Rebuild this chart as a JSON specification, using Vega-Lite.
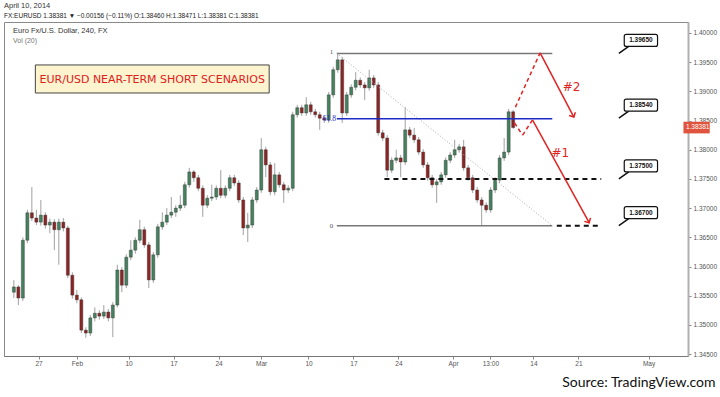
{
"$schema": "https://vega.github.io/schema/vega-lite/v6.json",
"width": 684, "height": 334,
"autosize": {"type": "none"},
"padding": {"left": 4, "top": 22, "right": 32, "bottom": 41},
"background": "white",
"title": {"text": "April 10, 2014", "subtitle": "FX:EURUSD 1.38381 ▼ −0.00156 (−0.11%) O:1.38460 H:1.38471 L:1.38381 C:1.38381", "anchor": "start", "frame": "group", "font": "Liberation Sans", "fontSize": 7.5, "fontWeight": "normal", "color": "#333", "subtitleFont": "Liberation Sans", "subtitleFontSize": 6.5, "subtitleColor": "#222", "subtitlePadding": 3, "offset": 3},
"config": {"view": {"stroke": "#8a8a8a", "strokeWidth": 1}, "axis": {"labelFont": "Liberation Sans", "labelFontSize": 6.5, "labelColor": "#555", "grid": false, "labelOverlap": false}},
"datasets": {
"candles": [
{"t":-2.75,"o":1.3556,"h":1.3577,"l":1.3546,"c":1.3565},
{"t":-2.25,"o":1.3565,"h":1.3568,"l":1.3534,"c":1.3546},
{"t":-1.75,"o":1.3546,"h":1.3650,"l":1.3541,"c":1.3645},
{"t":-1.25,"o":1.3645,"h":1.3697,"l":1.3640,"c":1.3692},
{"t":-0.75,"o":1.3692,"h":1.3736,"l":1.3678,"c":1.3683},
{"t":-0.25,"o":1.3683,"h":1.3697,"l":1.3671,"c":1.3676},
{"t":0.25,"o":1.3676,"h":1.3714,"l":1.3670,"c":1.3688},
{"t":0.75,"o":1.3688,"h":1.3693,"l":1.3665,"c":1.3671},
{"t":1.25,"o":1.3671,"h":1.3682,"l":1.3657,"c":1.3676},
{"t":1.75,"o":1.3676,"h":1.3681,"l":1.3628,"c":1.3663},
{"t":2.25,"o":1.3663,"h":1.3682,"l":1.3603,"c":1.3676},
{"t":2.75,"o":1.3676,"h":1.3683,"l":1.3660,"c":1.3666},
{"t":3.25,"o":1.3666,"h":1.3670,"l":1.3580,"c":1.3585},
{"t":3.75,"o":1.3585,"h":1.3590,"l":1.3545,"c":1.3551},
{"t":4.25,"o":1.3551,"h":1.3560,"l":1.3537,"c":1.3543},
{"t":4.75,"o":1.3543,"h":1.3547,"l":1.3486,"c":1.3491},
{"t":5.25,"o":1.3491,"h":1.3496,"l":1.3478,"c":1.3486},
{"t":5.75,"o":1.3486,"h":1.3517,"l":1.3481,"c":1.3512},
{"t":6.25,"o":1.3512,"h":1.3530,"l":1.3506,"c":1.3520},
{"t":6.75,"o":1.3520,"h":1.3525,"l":1.3509,"c":1.3515},
{"t":7.25,"o":1.3515,"h":1.3534,"l":1.3510,"c":1.3522},
{"t":7.75,"o":1.3522,"h":1.3527,"l":1.3506,"c":1.3512},
{"t":8.25,"o":1.3512,"h":1.3539,"l":1.3479,"c":1.3534},
{"t":8.75,"o":1.3534,"h":1.3603,"l":1.3530,"c":1.3594},
{"t":9.25,"o":1.3594,"h":1.3599,"l":1.3556,"c":1.3568},
{"t":9.75,"o":1.3568,"h":1.3621,"l":1.3563,"c":1.3616},
{"t":10.25,"o":1.3616,"h":1.3645,"l":1.3611,"c":1.3628},
{"t":10.75,"o":1.3628,"h":1.3650,"l":1.3622,"c":1.3645},
{"t":11.25,"o":1.3645,"h":1.3680,"l":1.3640,"c":1.3663},
{"t":11.75,"o":1.3663,"h":1.3668,"l":1.3632,"c":1.3637},
{"t":12.25,"o":1.3637,"h":1.3642,"l":1.3563,"c":1.3577},
{"t":12.75,"o":1.3577,"h":1.3625,"l":1.3572,"c":1.3620},
{"t":13.25,"o":1.3620,"h":1.3673,"l":1.3615,"c":1.3668},
{"t":13.75,"o":1.3668,"h":1.3693,"l":1.3663,"c":1.3676},
{"t":14.25,"o":1.3676,"h":1.3700,"l":1.3671,"c":1.3688},
{"t":14.75,"o":1.3688,"h":1.3719,"l":1.3683,"c":1.3693},
{"t":15.25,"o":1.3693,"h":1.3705,"l":1.3685,"c":1.3700},
{"t":15.75,"o":1.3700,"h":1.3722,"l":1.3695,"c":1.3705},
{"t":16.25,"o":1.3705,"h":1.3745,"l":1.3700,"c":1.3740},
{"t":16.75,"o":1.3740,"h":1.3769,"l":1.3735,"c":1.3762},
{"t":17.25,"o":1.3762,"h":1.3765,"l":1.3745,"c":1.3752},
{"t":17.75,"o":1.3752,"h":1.3757,"l":1.3729,"c":1.3734},
{"t":18.25,"o":1.3734,"h":1.3739,"l":1.3685,"c":1.3705},
{"t":18.75,"o":1.3705,"h":1.3722,"l":1.3700,"c":1.3717},
{"t":19.25,"o":1.3717,"h":1.3740,"l":1.3712,"c":1.3719},
{"t":19.75,"o":1.3719,"h":1.3739,"l":1.3714,"c":1.3734},
{"t":20.25,"o":1.3734,"h":1.3765,"l":1.3717,"c":1.3722},
{"t":20.75,"o":1.3722,"h":1.3739,"l":1.3717,"c":1.3734},
{"t":21.25,"o":1.3734,"h":1.3757,"l":1.3729,"c":1.3752},
{"t":21.75,"o":1.3752,"h":1.3757,"l":1.3738,"c":1.3743},
{"t":22.25,"o":1.3743,"h":1.3748,"l":1.3709,"c":1.3714},
{"t":22.75,"o":1.3714,"h":1.3719,"l":1.3654,"c":1.3666},
{"t":23.25,"o":1.3666,"h":1.3692,"l":1.3642,"c":1.3671},
{"t":23.75,"o":1.3671,"h":1.3719,"l":1.3666,"c":1.3714},
{"t":24.25,"o":1.3714,"h":1.3736,"l":1.3709,"c":1.3731},
{"t":24.75,"o":1.3731,"h":1.3820,"l":1.3726,"c":1.3800},
{"t":25.25,"o":1.3800,"h":1.3805,"l":1.3753,"c":1.3774},
{"t":25.75,"o":1.3774,"h":1.3779,"l":1.3722,"c":1.3728},
{"t":26.25,"o":1.3728,"h":1.3777,"l":1.3722,"c":1.3757},
{"t":26.75,"o":1.3757,"h":1.3762,"l":1.3735,"c":1.3740},
{"t":27.25,"o":1.3740,"h":1.3745,"l":1.3709,"c":1.3731},
{"t":27.75,"o":1.3731,"h":1.3739,"l":1.3726,"c":1.3734},
{"t":28.25,"o":1.3734,"h":1.3865,"l":1.3729,"c":1.3860},
{"t":28.75,"o":1.3860,"h":1.3877,"l":1.3855,"c":1.3872},
{"t":29.25,"o":1.3872,"h":1.3877,"l":1.3858,"c":1.3863},
{"t":29.75,"o":1.3863,"h":1.3890,"l":1.3858,"c":1.3877},
{"t":30.25,"o":1.3877,"h":1.3882,"l":1.3860,"c":1.3865},
{"t":30.75,"o":1.3865,"h":1.3870,"l":1.3855,"c":1.3860},
{"t":31.25,"o":1.3860,"h":1.3865,"l":1.3834,"c":1.3854},
{"t":31.75,"o":1.3854,"h":1.3859,"l":1.3846,"c":1.3851},
{"t":32.25,"o":1.3851,"h":1.3899,"l":1.3846,"c":1.3894},
{"t":32.75,"o":1.3894,"h":1.3942,"l":1.3889,"c":1.3937},
{"t":33.25,"o":1.3937,"h":1.3966,"l":1.3932,"c":1.3954},
{"t":33.75,"o":1.3954,"h":1.3959,"l":1.3846,"c":1.3863},
{"t":34.25,"o":1.3863,"h":1.3899,"l":1.3858,"c":1.3894},
{"t":34.75,"o":1.3894,"h":1.3912,"l":1.3889,"c":1.3907},
{"t":35.25,"o":1.3907,"h":1.3933,"l":1.3902,"c":1.3919},
{"t":35.75,"o":1.3919,"h":1.3924,"l":1.3906,"c":1.3911},
{"t":36.25,"o":1.3911,"h":1.3916,"l":1.3885,"c":1.3906},
{"t":36.75,"o":1.3906,"h":1.3937,"l":1.3901,"c":1.3923},
{"t":37.25,"o":1.3923,"h":1.3928,"l":1.3906,"c":1.3911},
{"t":37.75,"o":1.3911,"h":1.3916,"l":1.3824,"c":1.3829},
{"t":38.25,"o":1.3829,"h":1.3834,"l":1.3815,"c":1.3820},
{"t":38.75,"o":1.3820,"h":1.3825,"l":1.3753,"c":1.3765},
{"t":39.25,"o":1.3765,"h":1.3787,"l":1.3760,"c":1.3782},
{"t":39.75,"o":1.3782,"h":1.3800,"l":1.3777,"c":1.3786},
{"t":40.25,"o":1.3786,"h":1.3791,"l":1.3753,"c":1.3779},
{"t":40.75,"o":1.3779,"h":1.3873,"l":1.3774,"c":1.3834},
{"t":41.25,"o":1.3834,"h":1.3839,"l":1.3820,"c":1.3825},
{"t":41.75,"o":1.3825,"h":1.3837,"l":1.3812,"c":1.3817},
{"t":42.25,"o":1.3817,"h":1.3822,"l":1.3791,"c":1.3796},
{"t":42.75,"o":1.3796,"h":1.3801,"l":1.3769,"c":1.3774},
{"t":43.25,"o":1.3774,"h":1.3779,"l":1.3747,"c":1.3752},
{"t":43.75,"o":1.3752,"h":1.3757,"l":1.3735,"c":1.3740},
{"t":44.25,"o":1.3740,"h":1.3750,"l":1.3709,"c":1.3745},
{"t":44.75,"o":1.3745,"h":1.3762,"l":1.3740,"c":1.3757},
{"t":45.25,"o":1.3757,"h":1.3787,"l":1.3752,"c":1.3782},
{"t":45.75,"o":1.3782,"h":1.3796,"l":1.3777,"c":1.3791},
{"t":46.25,"o":1.3791,"h":1.3817,"l":1.3786,"c":1.3800},
{"t":46.75,"o":1.3800,"h":1.3810,"l":1.3795,"c":1.3805},
{"t":47.25,"o":1.3805,"h":1.3817,"l":1.3764,"c":1.3769},
{"t":47.75,"o":1.3769,"h":1.3774,"l":1.3747,"c":1.3752},
{"t":48.25,"o":1.3752,"h":1.3757,"l":1.3726,"c":1.3731},
{"t":48.75,"o":1.3731,"h":1.3736,"l":1.3709,"c":1.3714},
{"t":49.25,"o":1.3714,"h":1.3719,"l":1.3671,"c":1.3705},
{"t":49.75,"o":1.3705,"h":1.3710,"l":1.3692,"c":1.3697},
{"t":50.25,"o":1.3697,"h":1.3736,"l":1.3692,"c":1.3731},
{"t":50.75,"o":1.3731,"h":1.3753,"l":1.3726,"c":1.3748},
{"t":51.25,"o":1.3748,"h":1.3791,"l":1.3743,"c":1.3786},
{"t":51.75,"o":1.3786,"h":1.3820,"l":1.3781,"c":1.3796},
{"t":52.25,"o":1.3796,"h":1.3870,"l":1.3791,"c":1.3865},
{"t":52.75,"o":1.3865,"h":1.3868,"l":1.3836,"c":1.3838}
],
"segs": [
{"k":"fib","x1":33.15,"y1":1.3965,"x2":57.1,"y2":1.3965},
{"k":"fib","x1":33.15,"y1":1.3670,"x2":57.1,"y2":1.3670},
{"k":"f618","x1":33.15,"y1":1.3853,"x2":57.1,"y2":1.3853},
{"k":"diag","x1":33.15,"y1":1.3965,"x2":57.1,"y2":1.3670},
{"k":"sup","x1":38.44,"y1":1.3750,"x2":62.54,"y2":1.3750},
{"k":"sup","x1":57.6,"y1":1.3670,"x2":62.3,"y2":1.3670},
{"k":"rdash","x1":53.0,"y1":1.3873,"x2":55.75,"y2":1.3966},
{"k":"rdash","x1":52.9,"y1":1.3846,"x2":53.8,"y2":1.3825},
{"k":"rdash","x1":53.8,"y1":1.3825,"x2":54.9,"y2":1.3851},
{"k":"rsolid","x1":55.75,"y1":1.3966,"x2":59.5,"y2":1.3856},
{"k":"rsolid","x1":54.9,"y1":1.3851,"x2":61.2,"y2":1.3675}
],
"tips": [
{"k":"a2","x":59.5,"y":1.3856},
{"k":"a1","x":61.2,"y":1.3675}
],
"levels": [
{"v":1.3965,"txt":"1.39650"},
{"v":1.3854,"txt":"1.38540"},
{"v":1.3750,"txt":"1.37500"},
{"v":1.3670,"txt":"1.36700"}
],
"notes": [
{"k":"hdr","x":-2.85,"y":1.40034,"txt":"Euro Fx/U.S. Dollar, 240, FX"},
{"k":"vol","x":-2.85,"y":1.39863,"txt":"Vol (20)"},
{"k":"fibl","x":32.75,"y":1.3967,"txt":"1"},
{"k":"fibl","x":32.75,"y":1.3670,"txt":"0"},
{"k":"f618l","x":33.05,"y":1.3853,"txt":"61.8"},
{"k":"hash","x":59.25,"y":1.3908,"txt":"#2"},
{"k":"hash","x":58.0,"y":1.3794,"txt":"#1"},
{"k":"box","x":12.63,"y":1.39195,"txt":"EUR/USD NEAR-TERM SHORT SCENARIOS"},
{"k":"last","x":71.95,"y":1.38381,"txt":"1.38381"}
]
},
"layer": [
{"data": {"name": "candles"}, "mark": {"type": "rule", "color": "#a0a0a0", "strokeWidth": 1},
 "encoding": {
  "x": {"field": "t", "type": "quantitative", "scale": {"domain": [-3.29, 71.63], "nice": false, "zero": false},
   "axis": {"values": [0, 4.26, 10, 15, 20, 24.73, 30, 35, 40, 46.07, 50.22, 55, 60, 67.8], "tickCount": 30,
    "labelExpr": "['27','Feb','10','17','24','Mar','10','17','24','Apr','13:00','14','21','May'][indexof([0,4.26,10,15,20,24.73,30,35,40,46.07,50.22,55,60,67.8], datum.value)]",
    "domainColor": "#777", "tickColor": "#888", "tickSize": 3, "labelPadding": 1, "labelFlush": false, "labelOverlap": false,
    "title": "Source: TradingView.com", "titleFont": "Lato", "titleFontSize": 14, "titleFontWeight": "normal", "titleColor": "#111",
    "titleAnchor": "end", "titleAlign": "right", "titleX": 711, "titleY": 26, "titleBaseline": "middle"}},
  "y": {"field": "l", "type": "quantitative", "scale": {"domain": [1.34467, 1.40188], "nice": false, "zero": false},
   "axis": {"orient": "right", "values": [1.345, 1.35, 1.355, 1.36, 1.365, 1.37, 1.375, 1.38, 1.385, 1.39, 1.395, 1.4], "tickCount": 30, "format": ".5f",
    "domainColor": "#b0b0b0", "domainWidth": 2, "tickColor": "#888", "tickSize": 3, "labelPadding": 2, "labelFlush": false, "labelOverlap": false, "title": null}},
  "y2": {"field": "h"}
 }},
{"data": {"name": "candles"}, "mark": {"type": "bar", "width": 3, "stroke": "#2a2a2a", "strokeWidth": 0.4},
 "encoding": {
  "x": {"field": "t", "type": "quantitative"},
  "y": {"field": "o", "type": "quantitative"},
  "y2": {"field": "c"},
  "color": {"condition": {"test": "datum.c >= datum.o", "value": "#46825f"}, "value": "#8e2525"}
 }},
{"data": {"name": "segs"}, "transform": [{"filter": "datum.k === 'fib'"}], "mark": {"type": "rule", "color": "#777", "strokeWidth": 1.5},
 "encoding": {"x": {"field": "x1", "type": "quantitative"}, "x2": {"field": "x2"}, "y": {"field": "y1", "type": "quantitative"}, "y2": {"field": "y2"}}},
{"data": {"name": "segs"}, "transform": [{"filter": "datum.k === 'diag'"}], "mark": {"type": "rule", "color": "#aaa", "strokeWidth": 1, "strokeDash": [1, 2]},
 "encoding": {"x": {"field": "x1", "type": "quantitative"}, "x2": {"field": "x2"}, "y": {"field": "y1", "type": "quantitative"}, "y2": {"field": "y2"}}},
{"data": {"name": "segs"}, "transform": [{"filter": "datum.k === 'f618'"}], "mark": {"type": "rule", "color": "#1c2bc8", "strokeWidth": 1.5},
 "encoding": {"x": {"field": "x1", "type": "quantitative"}, "x2": {"field": "x2"}, "y": {"field": "y1", "type": "quantitative"}, "y2": {"field": "y2"}}},
{"data": {"name": "segs"}, "transform": [{"filter": "datum.k === 'sup'"}], "mark": {"type": "rule", "color": "#111", "strokeWidth": 2, "strokeDash": [5, 4]},
 "encoding": {"x": {"field": "x1", "type": "quantitative"}, "x2": {"field": "x2"}, "y": {"field": "y1", "type": "quantitative"}, "y2": {"field": "y2"}}},
{"data": {"name": "segs"}, "transform": [{"filter": "datum.k === 'rdash'"}], "mark": {"type": "rule", "color": "#e02424", "strokeWidth": 1.5, "strokeDash": [4, 3]},
 "encoding": {"x": {"field": "x1", "type": "quantitative"}, "x2": {"field": "x2"}, "y": {"field": "y1", "type": "quantitative"}, "y2": {"field": "y2"}}},
{"data": {"name": "segs"}, "transform": [{"filter": "datum.k === 'rsolid'"}], "mark": {"type": "rule", "color": "#e02424", "strokeWidth": 1.5},
 "encoding": {"x": {"field": "x1", "type": "quantitative"}, "x2": {"field": "x2"}, "y": {"field": "y1", "type": "quantitative"}, "y2": {"field": "y2"}}},
{"data": {"name": "tips"}, "transform": [{"filter": "datum.k === 'a2'"}], "mark": {"type": "point", "shape": "M-1,-1L0,0L-1,1", "angle": 62, "size": 50, "filled": false, "stroke": "#e02424", "strokeWidth": 1.5, "opacity": 1},
 "encoding": {"x": {"field": "x", "type": "quantitative"}, "y": {"field": "y", "type": "quantitative"}}},
{"data": {"name": "tips"}, "transform": [{"filter": "datum.k === 'a1'"}], "mark": {"type": "point", "shape": "M-1,-1L0,0L-1,1", "angle": 60.6, "size": 50, "filled": false, "stroke": "#e02424", "strokeWidth": 1.5, "opacity": 1},
 "encoding": {"x": {"field": "x", "type": "quantitative"}, "y": {"field": "y", "type": "quantitative"}}},
{"data": {"name": "levels"}, "mark": {"type": "rule", "color": "#111", "strokeWidth": 1.5, "yOffset": -7},
 "encoding": {"x": {"datum": 65.6, "type": "quantitative"}, "x2": {"datum": 64.5}, "y": {"field": "v", "type": "quantitative"}, "y2": {"field": "v"}}},
{"data": {"name": "levels"}, "mark": {"type": "rect", "fill": "white", "stroke": "#111", "strokeWidth": 1.2, "cornerRadius": 2, "yOffset": -7, "y2Offset": -19},
 "encoding": {"x": {"datum": 65.1, "type": "quantitative"}, "x2": {"datum": 68.8}, "y": {"field": "v", "type": "quantitative"}, "y2": {"field": "v"}}},
{"data": {"name": "levels"}, "mark": {"type": "text", "font": "Liberation Sans", "fontSize": 6.5, "fontWeight": "bold", "color": "#111", "align": "center", "baseline": "middle", "yOffset": -13},
 "encoding": {"x": {"datum": 66.95, "type": "quantitative"}, "y": {"field": "v", "type": "quantitative"}, "text": {"field": "txt"}}},
{"data": {"values": [{"a": 1}]}, "mark": {"type": "rect", "fill": "#fcf4cf", "stroke": "#444", "strokeWidth": 1},
 "encoding": {"x": {"datum": -0.36, "type": "quantitative"}, "x2": {"datum": 25.63}, "y": {"datum": 1.39452, "type": "quantitative"}, "y2": {"datum": 1.38972}}},
{"data": {"values": [{"a": 1}]}, "mark": {"type": "rect", "fill": "#e0533c"},
 "encoding": {"x": {"datum": 71.68, "type": "quantitative"}, "x2": {"datum": 74.6}, "y": {"datum": 1.3828, "type": "quantitative"}, "y2": {"datum": 1.3848}}},
{"data": {"name": "notes"}, "transform": [{"filter": "datum.k === 'hdr'"}], "mark": {"type": "text", "font": "Liberation Sans", "fontSize": 7.5, "color": "#333", "align": "left", "baseline": "middle"},
 "encoding": {"x": {"field": "x", "type": "quantitative"}, "y": {"field": "y", "type": "quantitative"}, "text": {"field": "txt"}}},
{"data": {"name": "notes"}, "transform": [{"filter": "datum.k === 'vol'"}], "mark": {"type": "text", "font": "Liberation Sans", "fontSize": 7, "color": "#777", "align": "left", "baseline": "middle"},
 "encoding": {"x": {"field": "x", "type": "quantitative"}, "y": {"field": "y", "type": "quantitative"}, "text": {"field": "txt"}}},
{"data": {"name": "notes"}, "transform": [{"filter": "datum.k === 'fibl'"}], "mark": {"type": "text", "font": "Liberation Serif", "fontSize": 7, "color": "#555", "align": "right", "baseline": "middle"},
 "encoding": {"x": {"field": "x", "type": "quantitative"}, "y": {"field": "y", "type": "quantitative"}, "text": {"field": "txt"}}},
{"data": {"name": "notes"}, "transform": [{"filter": "datum.k === 'f618l'"}], "mark": {"type": "text", "font": "Liberation Serif", "fontSize": 7.5, "color": "#1c2bc8", "align": "right", "baseline": "middle"},
 "encoding": {"x": {"field": "x", "type": "quantitative"}, "y": {"field": "y", "type": "quantitative"}, "text": {"field": "txt"}}},
{"data": {"name": "notes"}, "transform": [{"filter": "datum.k === 'hash'"}], "mark": {"type": "text", "font": "DejaVu Sans", "fontSize": 12, "color": "#e02424", "align": "center", "baseline": "middle"},
 "encoding": {"x": {"field": "x", "type": "quantitative"}, "y": {"field": "y", "type": "quantitative"}, "text": {"field": "txt"}}},
{"data": {"name": "notes"}, "transform": [{"filter": "datum.k === 'box'"}], "mark": {"type": "text", "font": "DejaVu Sans", "fontSize": 11, "color": "#e0201b", "align": "center", "baseline": "middle"},
 "encoding": {"x": {"field": "x", "type": "quantitative"}, "y": {"field": "y", "type": "quantitative"}, "text": {"field": "txt"}}},
{"data": {"name": "notes"}, "transform": [{"filter": "datum.k === 'last'"}], "mark": {"type": "text", "font": "Liberation Sans", "fontSize": 6.5, "color": "white", "align": "left", "baseline": "middle"},
 "encoding": {"x": {"field": "x", "type": "quantitative"}, "y": {"field": "y", "type": "quantitative"}, "text": {"field": "txt"}}}
]
}
